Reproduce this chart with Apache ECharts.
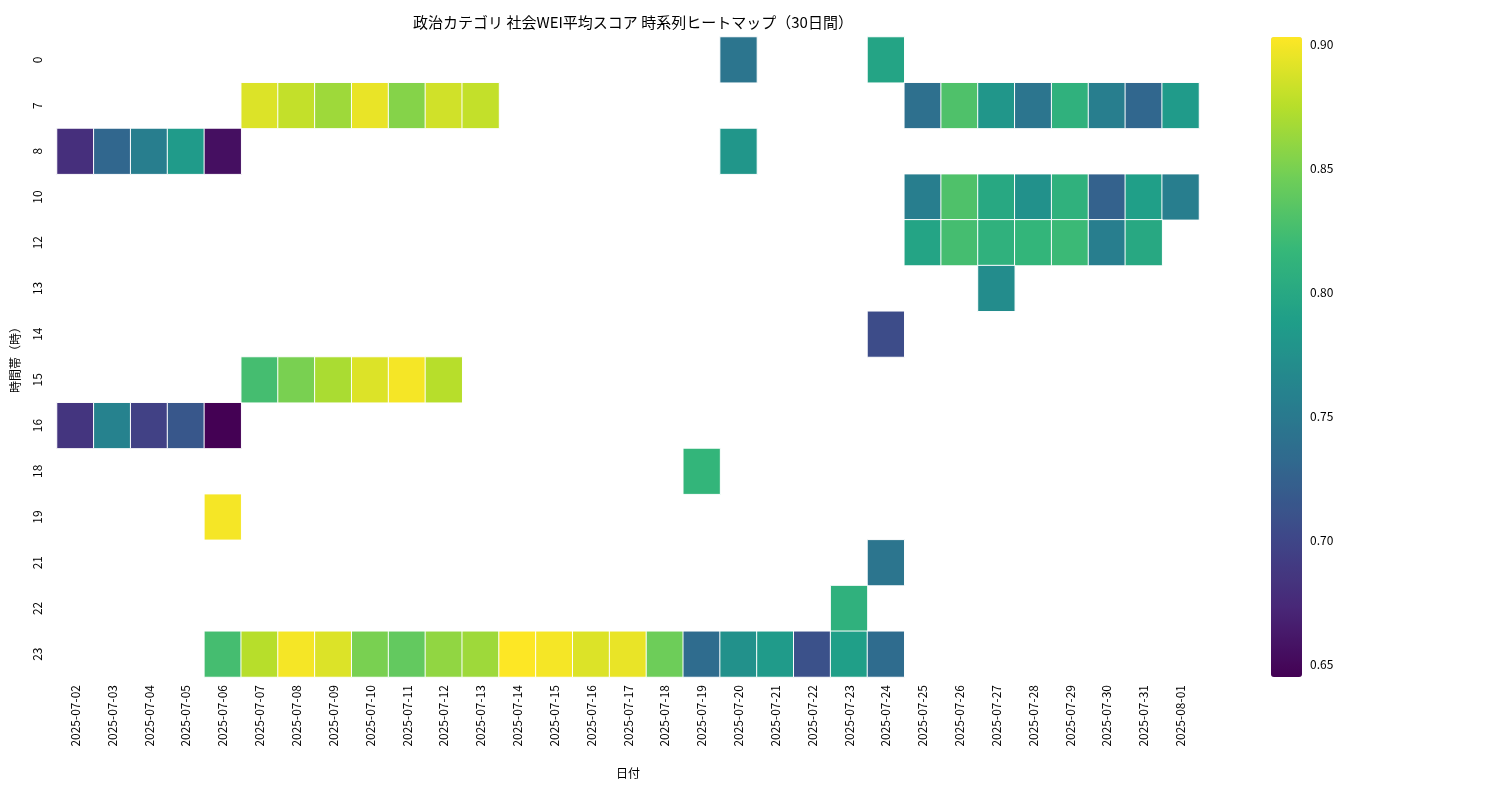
<!DOCTYPE html>
<html>
<head>
<meta charset="utf-8">
<script src="https://cdn.jsdelivr.net/npm/echarts@6/dist/echarts.min.js"></script>
<style>html,body{margin:0;padding:0;background:#fff}#main{width:1500px;height:800px}</style>
</head>
<body>
<div id="main"></div>
<script>
const chart = echarts.init(document.querySelector('#main'));

const dates = [];
for (let d = 2; d <= 31; d++) dates.push('2025-07-' + String(d).padStart(2, '0'));
dates.push('2025-08-01');
const hours = ['0', '7', '8', '10', '12', '13', '14', '15', '16', '18', '19', '21', '22', '23'];

// [date, hour, score]
const row0 = [['2025-07-20', 0.745], ['2025-07-24', 0.795]];
const row7 = [['2025-07-07', 0.89], ['2025-07-08', 0.88], ['2025-07-09', 0.865], ['2025-07-10', 0.895],
  ['2025-07-11', 0.855], ['2025-07-12', 0.885], ['2025-07-13', 0.88], ['2025-07-25', 0.74],
  ['2025-07-26', 0.83], ['2025-07-27', 0.78], ['2025-07-28', 0.745], ['2025-07-29', 0.81],
  ['2025-07-30', 0.755], ['2025-07-31', 0.73], ['2025-08-01', 0.785]];
const row8 = [['2025-07-02', 0.68], ['2025-07-03', 0.73], ['2025-07-04', 0.755], ['2025-07-05', 0.785],
  ['2025-07-06', 0.655], ['2025-07-20', 0.78]];
const row10 = [['2025-07-25', 0.755], ['2025-07-26', 0.83], ['2025-07-27', 0.8], ['2025-07-28', 0.775],
  ['2025-07-29', 0.81], ['2025-07-30', 0.725], ['2025-07-31', 0.79], ['2025-08-01', 0.755]];
const row12 = [['2025-07-25', 0.795], ['2025-07-26', 0.825], ['2025-07-27', 0.81], ['2025-07-28', 0.815],
  ['2025-07-29', 0.82], ['2025-07-30', 0.755], ['2025-07-31', 0.8]];
const row13 = [['2025-07-27', 0.77]];
const row14 = [['2025-07-24', 0.705]];
const row15 = [['2025-07-07', 0.825], ['2025-07-08', 0.85], ['2025-07-09', 0.87], ['2025-07-10', 0.89],
  ['2025-07-11', 0.9], ['2025-07-12', 0.875]];
const row16 = [['2025-07-02', 0.685], ['2025-07-03', 0.76], ['2025-07-04', 0.695], ['2025-07-05', 0.715],
  ['2025-07-06', 0.645]];
const row18 = [['2025-07-19', 0.815]];
const row19 = [['2025-07-06', 0.9]];
const row21 = [['2025-07-24', 0.745]];
const row22 = [['2025-07-23', 0.81]];
const row23 = [['2025-07-06', 0.825], ['2025-07-07', 0.875], ['2025-07-08', 0.9], ['2025-07-09', 0.89],
  ['2025-07-10', 0.85], ['2025-07-11', 0.84], ['2025-07-12', 0.86], ['2025-07-13', 0.865],
  ['2025-07-14', 0.903], ['2025-07-15', 0.9], ['2025-07-16', 0.89], ['2025-07-17', 0.895],
  ['2025-07-18', 0.845], ['2025-07-19', 0.735], ['2025-07-20', 0.775], ['2025-07-21', 0.785],
  ['2025-07-22', 0.71], ['2025-07-23', 0.79], ['2025-07-24', 0.735]];

const rows = { '0': row0, '7': row7, '8': row8, '10': row10, '12': row12, '13': row13, '14': row14,
  '15': row15, '16': row16, '18': row18, '19': row19, '21': row21, '22': row22, '23': row23 };
const colorTicks = [0.65, 0.70, 0.75, 0.80, 0.85, 0.90];
const vMin = 0.645, vMax = 0.903;

const data = [];
for (const h of hours) for (const [d, v] of rows[h]) data.push([dates.indexOf(d), hours.indexOf(h), v]);

const viridis = ['#440154', '#482878', '#3e4989', '#31688e', '#26828e', '#1f9e89', '#35b779', '#6ece58', '#b5de2b', '#fde725'];
const font = '"Noto Sans CJK JP", "DejaVu Sans", sans-serif';

let option = {
    textStyle: { fontFamily: font },
    title: {
        text: '政治カテゴリ 社会WEI平均スコア 時系列ヒートマップ（30日間）',
        left: 628, top: 10, textAlign: 'center',
        textStyle: { fontSize: 15, fontWeight: 'normal', color: '#000', fontFamily: font }
    },
    grid: [
        { left: 57, right: 301, top: 37, bottom: 123 },
        { left: 1271, width: 31, top: 37, bottom: 123 }
    ],
    xAxis: [
        {
            type: 'category', data: dates, gridIndex: 0,
            name: '日付', nameLocation: 'middle', nameGap: 90,
            nameTextStyle: { color: '#000', fontSize: 12 },
            axisLine: { show: false }, splitLine: { show: false },
            axisTick: { alignWithLabel: true, length: 5, lineStyle: { color: '#000' } },
            axisLabel: { rotate: 90, color: '#000', fontSize: 12 }
        },
        { type: 'value', gridIndex: 1, show: false }
    ],
    yAxis: [
        {
            type: 'category', data: hours, inverse: true, gridIndex: 0,
            name: '時間帯（時）', nameLocation: 'middle', nameGap: 36,
            nameTextStyle: { color: '#000', fontSize: 12 },
            axisLine: { show: false }, splitLine: { show: false },
            axisTick: { alignWithLabel: true, length: 5, lineStyle: { color: '#000' } },
            axisLabel: { rotate: 90, color: '#000', fontSize: 12, margin: 14 }
        },
        {
            type: 'value', gridIndex: 1, position: 'right', min: vMin, max: vMax,
            axisLine: { show: false }, splitLine: { show: false },
            axisTick: { show: true, length: 4, customValues: colorTicks, lineStyle: { color: '#000' } },
            axisLabel: { color: '#000', fontSize: 12, customValues: colorTicks,
                formatter: v => v.toFixed(2) }
        }
    ],
    visualMap: {
        type: 'continuous', min: vMin, max: vMax, calculable: false,
        left: 1271, top: 37, itemWidth: 31, itemHeight: 640, padding: 0,
        text: ['', ''], showLabel: false,
        inRange: { color: viridis }, seriesIndex: 0
    },
    series: [
        {
            type: 'heatmap', xAxisIndex: 0, yAxisIndex: 0, data: data,
            itemStyle: { borderColor: '#fff', borderWidth: 1 },
            emphasis: { disabled: true }
        }
    ]
};

chart.setOption(option);
</script>
</body>
</html>
